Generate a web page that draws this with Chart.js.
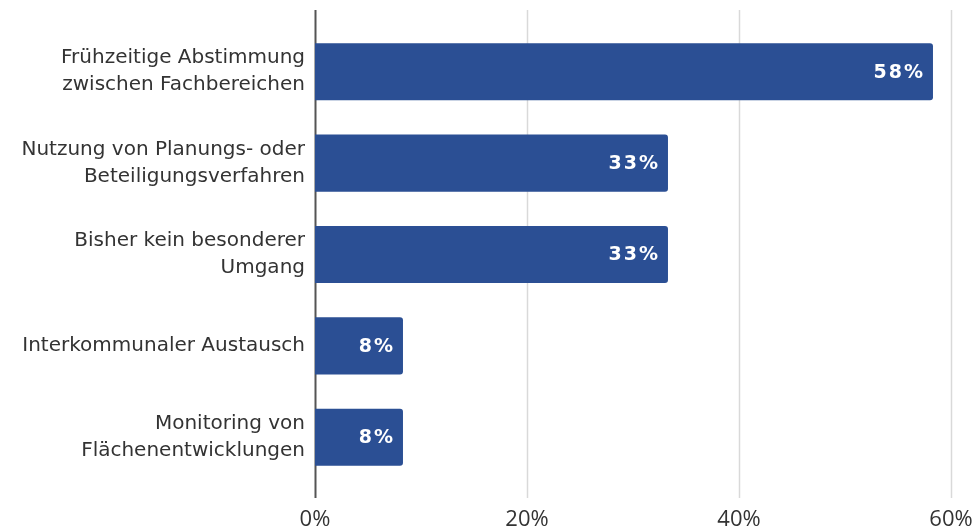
<!DOCTYPE html>
<html>
<head>
<meta charset="utf-8">
<script src="https://cdn.jsdelivr.net/npm/chart.js@4"></script>
<style>
  html, body { margin: 0; padding: 0; background: #fff; }
  #wrap { width: 980px; height: 531px; }
</style>
</head>
<body>
<div id="wrap"><canvas id="chart"></canvas></div>
<script>
'use strict';

// categories (multi-line labels)
let categories = [
  ['Frühzeitige Abstimmung', 'zwischen Fachbereichen'],
  ['Nutzung von Planungs- oder', 'Beteiligungsverfahren'],
  ['Bisher kein besonderer', 'Umgang'],
  'Interkommunaler Austausch',
  ['Monitoring von', 'Flächenentwicklungen']
];

// share of answers in percent
let shares = [58.3, 33.3, 33.3, 8.3, 8.3];

// x axis ticks
let xTicks = [0, 20, 40, 60];

let barColor = '#2b4f94';

// grid lines drawn a bit above and below the plot area
let gridPlugin = {
  id: 'gridLines',
  beforeDatasetsDraw(chart) {
    let ctx = chart.ctx;
    let area = chart.chartArea;
    let xScale = chart.scales.x;
    ctx.save();
    for (let i = 0; i < xTicks.length; i++) {
      let x = Math.round(xScale.getPixelForValue(xTicks[i])) + 0.5;
      ctx.beginPath();
      ctx.strokeStyle = xTicks[i] === 0 ? '#555555' : '#d9d9d9';
      ctx.lineWidth = xTicks[i] === 0 ? 2 : 1.5;
      ctx.moveTo(x, area.top - 16);
      ctx.lineTo(x, area.bottom + 15);
      ctx.stroke();
    }
    ctx.restore();
  }
};

// value labels inside the bar end
let labelPlugin = {
  id: 'valueLabels',
  afterDatasetsDraw(chart) {
    let ctx = chart.ctx;
    let meta = chart.getDatasetMeta(0);
    ctx.save();
    ctx.font = 'bold 19px "DejaVu Sans", Verdana, sans-serif';
    ctx.letterSpacing = '2px';
    ctx.fillStyle = '#ffffff';
    ctx.textAlign = 'right';
    ctx.textBaseline = 'middle';
    meta.data.forEach(function (bar, i) {
      ctx.fillText(Math.round(shares[i]) + '%', bar.x - 8, bar.y + 1);
    });
    ctx.restore();
  }
};

let ctx = document.getElementById('chart').getContext('2d');

let chartObject = {
  type: 'bar',
  data: {
    labels: categories,
    datasets: [{
      data: shares,
      backgroundColor: barColor,
      borderWidth: 0,
      borderRadius: { topRight: 3, bottomRight: 3 },
      borderSkipped: 'start',
      barPercentage: 0.625,
      categoryPercentage: 1
    }]
  },
  options: {
    indexAxis: 'y',
    responsive: true,
    maintainAspectRatio: false,
    animation: false,
    layout: { padding: { top: 26, right: 29, left: 0, bottom: 0 } },
    plugins: {
      legend: { display: false },
      tooltip: { enabled: false }
    },
    scales: {
      x: {
        min: 0,
        max: 60,
        afterBuildTicks(scale) {
          scale.ticks = xTicks.map(v => ({ value: v }));
        },
        afterFit(scale) {
          scale.height = 48;
          scale.paddingLeft = 0;
          scale.paddingRight = 0;
        },
        grid: { display: false, drawTicks: false },
        border: { display: false },
        ticks: {
          padding: 24,
          maxRotation: 0,
          color: '#333333',
          font: { family: '"Open Sans", sans-serif', size: 22 },
          callback: v => v + '%'
        }
      },
      y: {
        afterFit(scale) {
          scale.width = 315;
          scale.paddingTop = 0;
          scale.paddingBottom = 0;
        },
        grid: { display: false, drawTicks: false },
        border: { display: false },
        ticks: {
          padding: 10,
          color: '#333333',
          font: { family: '"DejaVu Sans", Verdana, sans-serif', size: 20, lineHeight: 1.35 }
        }
      }
    }
  },
  plugins: [gridPlugin, labelPlugin]
};

const myChart = new Chart(ctx, chartObject);
</script>
</body>
</html>
